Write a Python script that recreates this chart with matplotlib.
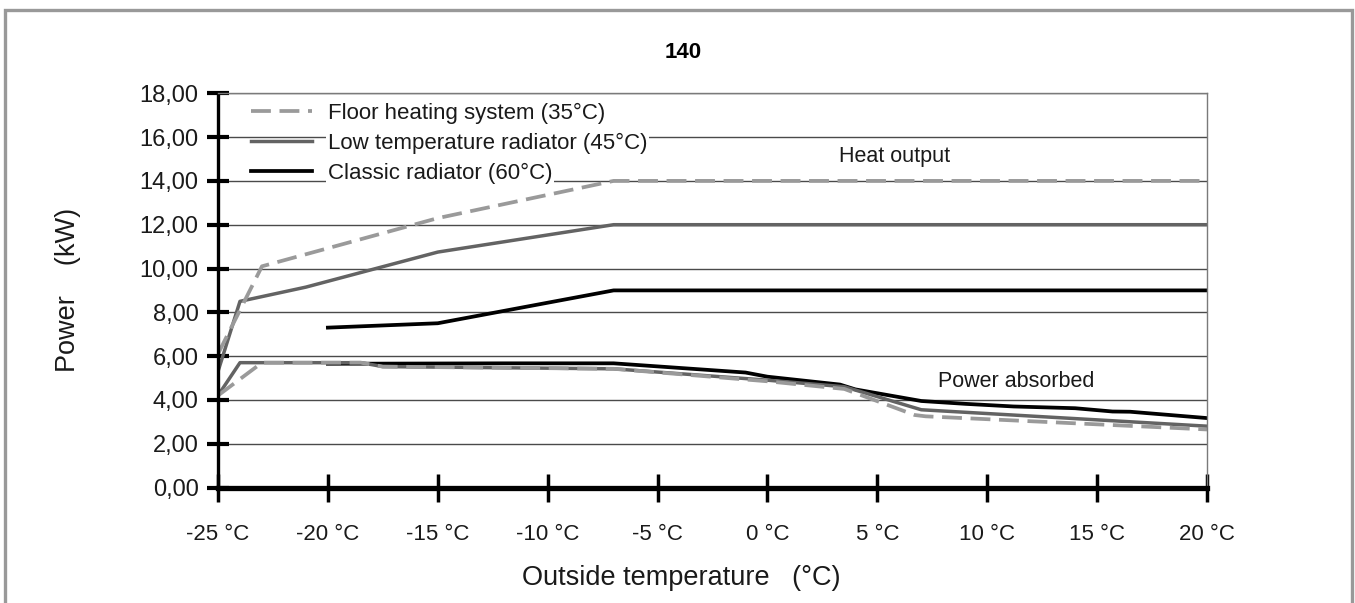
import matplotlib
matplotlib.use("Agg")
import matplotlib.pyplot as plt
from matplotlib.patches import Rectangle

plt.rcParams['font.family'] = ['Liberation Sans', 'DejaVu Sans']

# ---------------- data ----------------
title = "140"
x_ticks = [-25, -20, -15, -10, -5, 0, 5, 10, 15, 20]
x_tick_labels = ["-25 °C", "-20 °C", "-15 °C", "-10 °C", "-5 °C", "0 °C", "5 °C", "10 °C", "15 °C", "20 °C"]
y_ticks = [0, 2, 4, 6, 8, 10, 12, 14, 16, 18]
y_tick_labels = ["0,00", "2,00", "4,00", "6,00", "8,00", "10,00", "12,00", "14,00", "16,00", "18,00"]

series_names = ["Floor heating system (35°C)", "Low temperature radiator (45°C)", "Classic radiator (60°C)"]

# Heat output
floor_heat_x = [-25, -23, -15, -7, 20]
floor_heat_y = [6.1, 10.1, 12.3, 14.0, 14.0]
lt_heat_x = [-25, -24, -21, -15, -7, 20]
lt_heat_y = [5.3, 8.5, 9.15, 10.75, 12.0, 12.0]
classic_heat_x = [-20, -15, -7, 20]
classic_heat_y = [7.3, 7.5, 9.0, 9.0]

# Power absorbed
floor_pow_x = [-25, -23, -18.5, -17.5, -7, 0, 3.5, 6.7, 7.2, 20]
floor_pow_y = [4.2, 5.7, 5.7, 5.52, 5.42, 4.85, 4.5, 3.31, 3.25, 2.65]
lt_pow_x = [-25, -24, -18.5, -17.5, -7, 0, 3.5, 7, 20]
lt_pow_y = [4.2, 5.7, 5.7, 5.52, 5.42, 4.9, 4.6, 3.55, 2.8]
classic_pow_x = [-20, -12, -7, -1, 0, 3.3, 4, 7, 9, 11.2, 14, 15.7, 16.5, 20]
classic_pow_y = [5.65, 5.67, 5.67, 5.25, 5.06, 4.7, 4.48, 3.95, 3.82, 3.7, 3.62, 3.47, 3.46, 3.17]

# ---------------- styles ----------------
C_FLOOR = "#9a9a9a"
C_LT = "#636363"
C_CLASSIC = "#000000"
FS_XTICK = 16
FS_YTICK = 17
FS_LEG = 16
FS_NOTE = 15.5
FS_LABEL = 19.5

W, H = 1355, 603
fig = plt.figure(figsize=(W / 100, H / 100), dpi=100)
ax = fig.add_axes([218 / W, 1 - 487.5 / H, (1207 - 218) / W, (487.5 - 93.3) / H])

for y in y_ticks[1:]:
    ax.axhline(y, color="#4a4a4a", lw=1.0, zorder=1)

l_cl, = ax.plot(classic_heat_x, classic_heat_y, color=C_CLASSIC, lw=2.7, zorder=3,
                solid_joinstyle='round', label=series_names[2])
ax.plot(classic_pow_x, classic_pow_y, color=C_CLASSIC, lw=2.7, zorder=3, solid_joinstyle='round')
l_lt, = ax.plot(lt_heat_x, lt_heat_y, color=C_LT, lw=2.5, zorder=4,
                solid_joinstyle='round', label=series_names[1])
ax.plot(lt_pow_x, lt_pow_y, color=C_LT, lw=2.5, zorder=4, solid_joinstyle='round')
l_fl, = ax.plot(floor_heat_x, floor_heat_y, color=C_FLOOR, lw=2.7, zorder=5,
                dashes=(5.3, 2.3), label=series_names[0])
ax.plot(floor_pow_x, floor_pow_y, color=C_FLOOR, lw=2.7, zorder=5, dashes=(5.3, 2.3))

ax.set_xlim(-25, 20)
ax.set_ylim(0, 18)
ax.set_xticks(x_ticks)
ax.set_xticklabels(x_tick_labels, fontsize=FS_XTICK)
ax.set_yticks(y_ticks)
ax.set_yticklabels(y_tick_labels, fontsize=FS_YTICK)
ax.tick_params(axis='x', direction='inout', length=20, width=2.5, pad=16, colors='black')
ax.tick_params(axis='y', direction='inout', length=16, width=3, pad=6, colors='black')
for lab in ax.get_xticklabels() + ax.get_yticklabels():
    lab.set_color('#1a1a1a')

ax.spines['left'].set_linewidth(2.4)
ax.spines['left'].set_color('black')
ax.spines['bottom'].set_linewidth(3.8)
ax.spines['bottom'].set_color('black')
ax.spines['top'].set_color('#7a7a7a')
ax.spines['top'].set_linewidth(1.0)
ax.spines['right'].set_color('#7a7a7a')
ax.spines['right'].set_linewidth(1.0)
for s in ax.spines.values():
    s.set_zorder(6)

leg = ax.legend(handles=[l_fl, l_lt, l_cl], loc='upper left',
                bbox_to_anchor=(251 / W, 1 - 103 / H), bbox_transform=fig.transFigure,
                frameon=False, fontsize=FS_LEG, handlelength=2.75, handletextpad=0.7,
                labelspacing=0.4, borderaxespad=0, borderpad=0)
leg.set_zorder(10)
for t in leg.get_texts():
    t.set_color('#1a1a1a')
    t.set_bbox(dict(facecolor='white', edgecolor='none', pad=1.5))

ax.text(5.8, 15.1, "Heat output", fontsize=FS_NOTE, ha='center', va='center', color='#1a1a1a', zorder=7)
ax.text(11.3, 4.86, "Power absorbed", fontsize=FS_NOTE, ha='center', va='center', color='#1a1a1a', zorder=7)

fig.text(683 / W, 1 - 52 / H, title, fontsize=16, fontweight='bold', ha='center', va='center')
fig.text(681 / W, 1 - 578 / H, "Outside temperature   (°C)", fontsize=FS_LABEL, ha='center', va='center',
         color='#1a1a1a')
fig.text(68 / W, 1 - 290 / H, "Power    (kW)", fontsize=FS_LABEL, ha='center', va='center',
         rotation=90, color='#1a1a1a')

frame = Rectangle((5 / W, -0.1), (1352 - 5) / W, 1.1 - 10 / H, transform=fig.transFigure,
                  fill=False, edgecolor='#999999', linewidth=2.4, clip_on=False)
fig.patches.append(frame)

fig.savefig("out.png", dpi=100)
